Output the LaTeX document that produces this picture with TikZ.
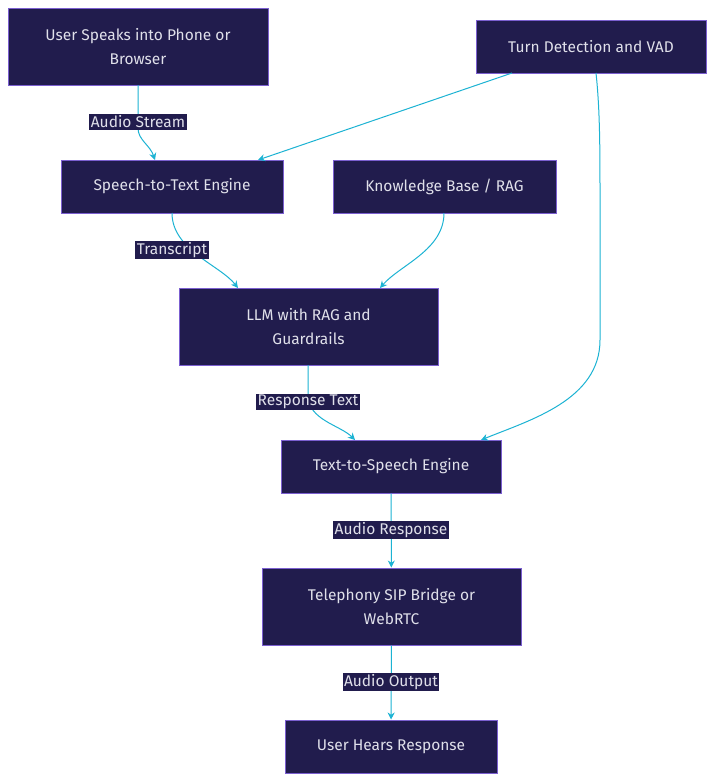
\documentclass[tikz,border=0pt]{standalone}
\usepackage{fontspec}
\setmainfont{Fira Sans}
\usetikzlibrary{arrows.meta}
\definecolor{nfill}{HTML}{211C4D}
\definecolor{nborder}{HTML}{7B5FD0}
\definecolor{edge}{HTML}{1CB3D3}
\definecolor{txt}{HTML}{E0E0EA}
\begin{document}
\begin{tikzpicture}[x=1pt,y=-1pt,
  box/.style={draw=nborder,fill=nfill,text=txt,line width=1pt,inner sep=0pt,align=center,font=\fontsize{15.5}{24}\selectfont},
  lab/.style={fill=nfill,text=txt,inner sep=1.5pt,font=\fontsize{15.5}{18}\selectfont},
  con/.style={draw=edge,line width=1pt,-{Stealth[length=7pt,width=7pt]}}]
\useasboundingbox[fill=white] (0,0) rectangle (715,782);
\node[box,minimum width=260,minimum height=77] (user) at (138,46.5) {User Speaks into Phone or\\Browser};
\node[box,minimum width=230,minimum height=53] (turn) at (591,46.5) {Turn Detection and VAD};
\node[box,minimum width=222,minimum height=53] (stt) at (172,186.5) {Speech-to-Text Engine};
\node[box,minimum width=223,minimum height=53] (kb) at (444.5,186.5) {Knowledge Base / RAG};
\node[box,minimum width=259,minimum height=77] (llm) at (308.5,326.5) {LLM with RAG and\\Guardrails};
\node[box,minimum width=220,minimum height=53] (tts) at (391,466.5) {Text-to-Speech Engine};
\node[box,minimum width=259,minimum height=77] (tel) at (391.5,606.5) {Telephony SIP Bridge or\\WebRTC};
\node[box,minimum width=212,minimum height=53] (hear) at (391,746.5) {User Hears Response};
\coordinate (a1) at (138,85);
\draw[con] (a1) -- (138,128) .. controls (138,140) and (150,145) .. (155,160);
\node[lab] at (138,122) {Audio Stream};
\draw[con] (512,73) -- (258,160);
\draw[con] (172,213) .. controls (172,250) and (220,265) .. (238,288);
\node[lab] at (172,250) {Transcript};
\draw[con] (444,213) .. controls (444,250) and (400,265) .. (380,288);
\draw[con] (596,73) .. controls (600,110) and (600,150) .. (600,200) -- (600,340) .. controls (600,400) and (530,420) .. (481,440);
\draw[con] (308,365) -- (308,395) .. controls (308,420) and (340,425) .. (355,440);
\node[lab] at (308,402) {Response Text};
\draw[con] (tts) -- (tel);
\node[lab] at (391,530) {Audio Response};
\draw[con] (tel) -- (hear);
\node[lab] at (391,682) {Audio Output};
\end{tikzpicture}
\end{document}
